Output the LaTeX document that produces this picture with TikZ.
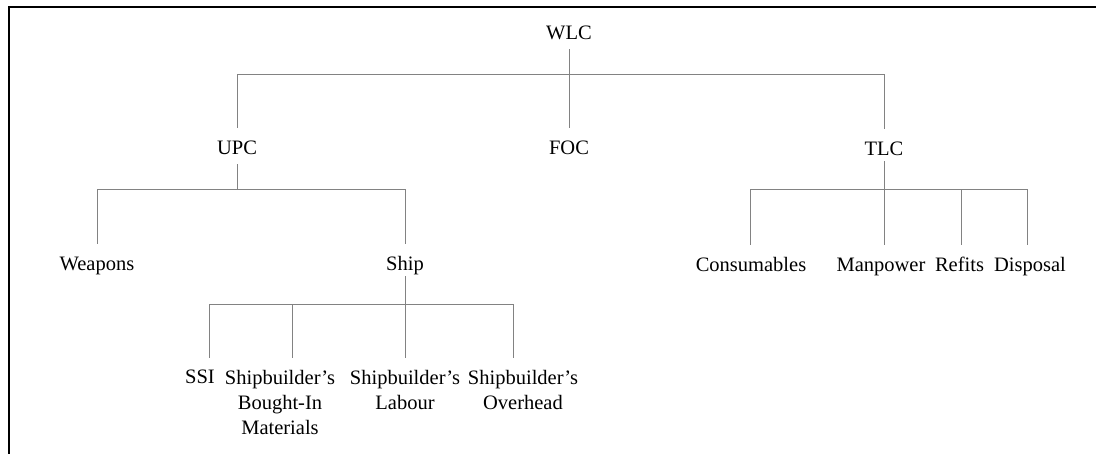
\documentclass[tikz,border=0pt]{standalone}
\usepackage{fontspec}
\setmainfont{Liberation Serif}
\definecolor{linegray}{RGB}{130,130,130}
\begin{document}
\begin{tikzpicture}[x=1pt,y=-1pt,
  lbl/.style={inner sep=0pt, anchor=north, text height=14pt, text depth=5pt,
    font=\fontsize{20.5}{25}\selectfont},
  leaf/.style={inner sep=0pt, anchor=north, align=center,
    font=\fontsize{20.5}{25}\selectfont},
  conn/.style={draw=linegray, line width=1pt, shorten <=5pt, shorten >=12pt},
  frame/.style={draw=black, line width=2pt}]
\useasboundingbox (0,0) rectangle (1096,454);

% page frame (left and top edges)
\draw[frame] (9.3,454) -- (9.3,7) -- (1096,7);

% levels of the cost breakdown
\node[lbl] (wlc) at (569,25) {WLC};
\node[lbl] (upc) at (237,140) {UPC};
\node[lbl] (foc) at (569,140) {FOC};
\node[lbl] (tlc) at (884,141) {TLC};

\node[lbl] (weapons) at (97,256) {Weapons};
\node[lbl] (ship) at (405,256) {Ship};

\node[lbl] (cons) at (751,257) {Consumables};
\node[lbl] (manp) at (881,257) {Manpower};
\node[lbl] (refits) at (959.5,257) {Refits};
\node[lbl] (disp) at (1030,257) {Disposal};

\node[leaf] (ssi) at (200,370) {SSI};
\node[leaf] (bought) at (280,370) {Shipbuilder's\\Bought-In\\Materials};
\node[leaf] (labour) at (405,370) {Shipbuilder's\\Labour};
\node[leaf] (overhead) at (523,370) {Shipbuilder's\\Overhead};

% bar heights
\coordinate (topbar) at (0,75);
\coordinate (upcbar) at (0,190);
\coordinate (tlcbar) at (0,190);
\coordinate (shipbar) at (0,305);

% WLC branches
\draw[conn] (wlc.south) -- (foc.north);
\draw[conn] (wlc.south) -- (wlc.south |- topbar) -| (upc.north);
\draw[conn] (wlc.south) -- (wlc.south |- topbar) -| (tlc.north);

% UPC branches
\draw[conn] (upc.south) -- (upc.south |- upcbar) -| (weapons.north);
\draw[conn] (upc.south) -- (upc.south |- upcbar) -| (ship.north);

% Ship branches
\draw[conn, shorten <=1pt] (ship.south) -- (labour.north);
\draw[conn, shorten <=1pt] (ship.south) -- (ship.south |- shipbar) -| ([xshift=9pt]ssi.north);
\draw[conn, shorten <=1pt] (ship.south) -- (ship.south |- shipbar) -| ([xshift=12pt]bought.north);
\draw[conn, shorten <=1pt] (ship.south) -- (ship.south |- shipbar) -| ([xshift=-10pt]overhead.north);

% TLC branches
\draw[conn, shorten <=1pt] (tlc.south) -- (tlc.south |- manp.north);
\draw[conn, shorten <=1pt] (tlc.south) -- (tlc.south |- tlcbar) -| ([xshift=-1pt]cons.north);
\draw[conn, shorten <=1pt] (tlc.south) -- (tlc.south |- tlcbar) -| ([xshift=1.5pt]refits.north);
\draw[conn, shorten <=1pt] (tlc.south) -- (tlc.south |- tlcbar) -| ([xshift=-3pt]disp.north);
\end{tikzpicture}
\end{document}
